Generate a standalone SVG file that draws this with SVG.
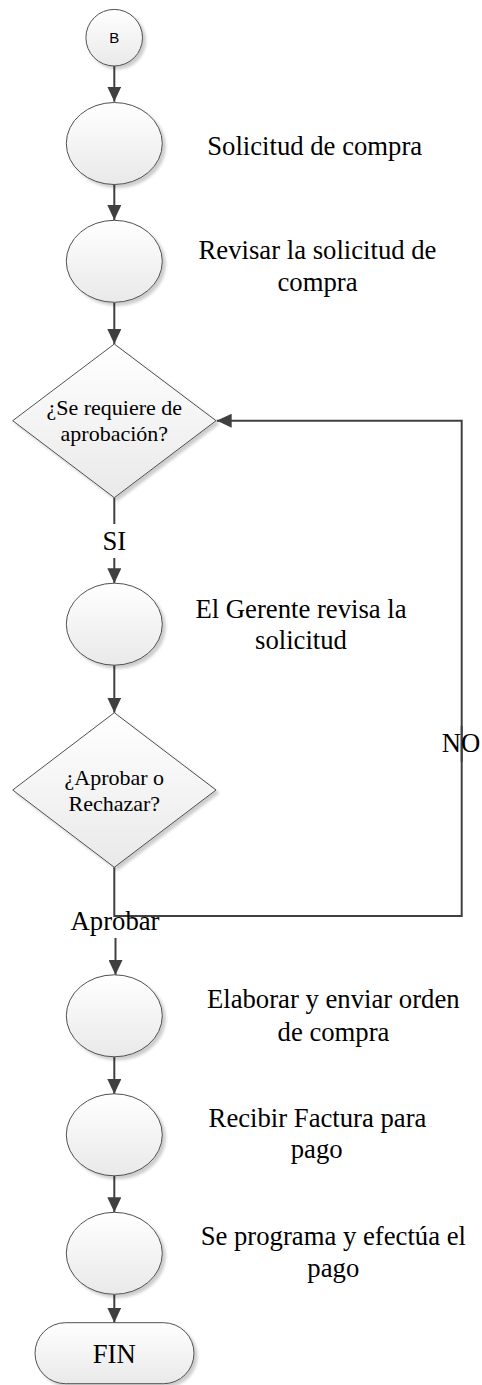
<svg xmlns="http://www.w3.org/2000/svg" width="482" height="1385" viewBox="0 0 482 1385">
<defs>
<linearGradient id="g" x1="0" y1="0" x2="0" y2="1">
<stop offset="0" stop-color="#ffffff"/>
<stop offset="1" stop-color="#e9e9e9"/>
</linearGradient>
<filter id="sh" x="-20%" y="-20%" width="140%" height="140%">
<feGaussianBlur in="SourceAlpha" stdDeviation="1.5"/>
<feOffset dx="3" dy="3" result="b"/>
<feComponentTransfer><feFuncA type="linear" slope="0.2"/></feComponentTransfer>
<feMerge><feMergeNode/><feMergeNode in="SourceGraphic"/></feMerge>
</filter>
<marker id="ar" markerUnits="userSpaceOnUse" markerWidth="15" markerHeight="14" refX="15" refY="7" orient="auto">
<path d="M0,0 L15,7 L0,14 z" fill="#404040"/>
</marker>
</defs>
<style>
.shape{fill:url(#g);stroke:#505050;stroke-width:1;filter:url(#sh)}
.conn{fill:none;stroke:#404040;stroke-width:2}
.lbl{font-family:"Liberation Serif","Times New Roman",serif;font-size:26.7px;fill:#000;text-anchor:middle}
.dt{font-family:"Liberation Serif","Times New Roman",serif;font-size:22px;fill:#000;text-anchor:middle}
.bt{font-family:"Liberation Sans",Arial,sans-serif;font-size:15px;fill:#000;text-anchor:middle}
</style>
<g id="connectors">
<path class="conn" d="M114.3 66 V101.7" marker-end="url(#ar)"/>
<path class="conn" d="M114.3 184.3 V220" marker-end="url(#ar)"/>
<path class="conn" d="M114.3 302.7 V344" marker-end="url(#ar)"/>
<path class="conn" d="M114.3 497.7 V524"/>
<path class="conn" d="M114.3 558 V583.3" marker-end="url(#ar)"/>
<path class="conn" d="M114.3 665 V712.7" marker-end="url(#ar)"/>
<path class="conn" d="M114.3 867.3 V916 H461.7 V726"/>
<path class="conn" d="M461.7 761.7 V420.7 H216.7" marker-end="url(#ar)"/>
<path class="conn" d="M115.5 938 V975" marker-end="url(#ar)"/>
<path class="conn" d="M114.3 1056.7 V1094" marker-end="url(#ar)"/>
<path class="conn" d="M114.3 1175.7 V1212.3" marker-end="url(#ar)"/>
<path class="conn" d="M114.3 1294.3 V1322.7" marker-end="url(#ar)"/>
<text class="lbl" x="114.3" y="550">SI</text>
<text class="lbl" x="461" y="752">NO</text>
<text class="lbl" x="115" y="930">Aprobar</text>
</g>
<g id="start-B">
<circle class="shape" cx="114.2" cy="37.7" r="28.3"/>
<text class="bt" x="114.2" y="43.3">B</text>
</g>
<g id="solicitud">
<ellipse class="shape" cx="114.3" cy="143.5" rx="48" ry="41"/>
<text class="lbl" x="314.7" y="155">Solicitud de compra</text>
</g>
<g id="revisar">
<ellipse class="shape" cx="114.3" cy="261.3" rx="48" ry="41"/>
<text class="lbl" x="317.5" y="259.3">Revisar la solicitud de</text>
<text class="lbl" x="317.5" y="291">compra</text>
</g>
<g id="decision-aprobacion">
<polygon class="shape" points="114.3,344 216,420.7 114.3,497.7 12.7,420.7"/>
<text class="dt" x="114.3" y="415">¿Se requiere de</text>
<text class="dt" x="114.3" y="440.7">aprobación?</text>
</g>
<g id="gerente">
<ellipse class="shape" cx="114.3" cy="624.2" rx="48" ry="41"/>
<text class="lbl" x="301" y="617.7">El Gerente revisa la</text>
<text class="lbl" x="301" y="649.3">solicitud</text>
</g>
<g id="decision-aprobar">
<polygon class="shape" points="114.3,712.7 216,790 114.3,867.3 12.7,790"/>
<text class="dt" x="114.3" y="785">¿Aprobar o</text>
<text class="dt" x="114.3" y="810.7">Rechazar?</text>
</g>
<g id="elaborar">
<ellipse class="shape" cx="114.3" cy="1015.8" rx="48" ry="41"/>
<text class="lbl" x="333.3" y="1008.3">Elaborar y enviar orden</text>
<text class="lbl" x="333.5" y="1040.7">de compra</text>
</g>
<g id="factura">
<ellipse class="shape" cx="114.3" cy="1134.8" rx="48" ry="41"/>
<text class="lbl" x="317.5" y="1126.7">Recibir Factura para</text>
<text class="lbl" x="316.7" y="1158.3">pago</text>
</g>
<g id="pago">
<ellipse class="shape" cx="114.3" cy="1253.3" rx="48" ry="41"/>
<text class="lbl" x="333.3" y="1245">Se programa y efectúa el</text>
<text class="lbl" x="333.3" y="1276.7">pago</text>
</g>
<g id="fin">
<rect class="shape" x="35" y="1322.7" width="159" height="61" rx="30.5" ry="30.5"/>
<text class="lbl" x="114.3" y="1363.3">FIN</text>
</g>
</svg>
